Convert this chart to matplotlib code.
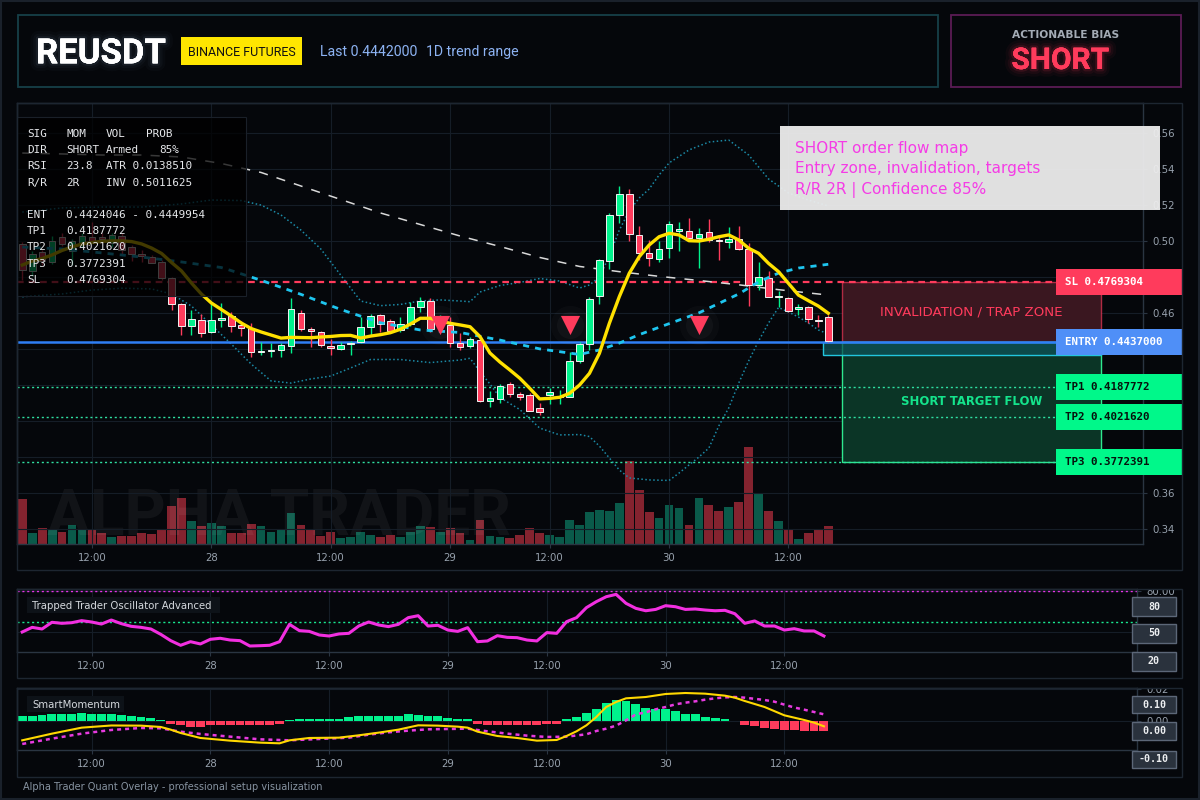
import matplotlib
matplotlib.use('Agg')
import matplotlib.pyplot as plt
import numpy as np
from matplotlib.patches import Rectangle
import matplotlib.patheffects as pe
from matplotlib.transforms import blended_transform_factory

# ---------------- data ----------------
symbol = 'REUSDT'
exchange = 'BINANCE FUTURES'
last_text = 'Last 0.4442000'
range_text = '1D trend range'
bias = 'SHORT'

opens = [0.4980, 0.4833, 0.4936, 0.4880, 0.5022, 0.4944, 0.4989, 0.5022, 0.5021, 0.4989,
         0.5026, 0.4967, 0.4926, 0.4911, 0.4882, 0.4791, 0.4647, 0.4528, 0.4559, 0.4491,
         0.4559, 0.4582, 0.4532, 0.4513, 0.4380, 0.4386, 0.4391, 0.4415, 0.4597, 0.4508,
         0.4491, 0.4413, 0.4397, 0.4424, 0.4437, 0.4519, 0.4586, 0.4552, 0.4504, 0.4537,
         0.4630, 0.4665, 0.4532, 0.4532, 0.4430, 0.4413, 0.4447, 0.4111, 0.4122, 0.4202,
         0.4147, 0.4141, 0.4069, 0.4144, 0.4130, 0.4133, 0.4333, 0.4424, 0.4694, 0.4889,
         0.5141, 0.5259, 0.5032, 0.4930, 0.4900, 0.4961, 0.5052, 0.5054, 0.5013, 0.5047,
         0.5004, 0.4994, 0.5008, 0.4952, 0.4754, 0.4794, 0.4689, 0.4680, 0.4619, 0.4630,
         0.4558, 0.4574]
highs = [0.4994, 0.4944, 0.4948, 0.5026, 0.5041, 0.5008, 0.5041, 0.5106, 0.5043, 0.5044,
         0.5041, 0.4976, 0.4948, 0.4921, 0.4893, 0.4800, 0.4652, 0.4615, 0.4591, 0.4658,
         0.4652, 0.4606, 0.4554, 0.4541, 0.4439, 0.4433, 0.4430, 0.4680, 0.4615, 0.4519,
         0.4500, 0.4454, 0.4439, 0.4444, 0.4578, 0.4591, 0.4593, 0.4563, 0.4574, 0.4658,
         0.4689, 0.4680, 0.4587, 0.4574, 0.4486, 0.4467, 0.4452, 0.4167, 0.4204, 0.4213,
         0.4159, 0.4152, 0.4097, 0.4180, 0.4171, 0.4380, 0.4439, 0.4686, 0.4900, 0.5152,
         0.5304, 0.5286, 0.5082, 0.5004, 0.4998, 0.5109, 0.5104, 0.5128, 0.5069, 0.5119,
         0.5026, 0.5074, 0.5082, 0.4986, 0.4880, 0.4833, 0.4721, 0.4689, 0.4648, 0.4637,
         0.4587, 0.4587]
lows = [0.4782, 0.4804, 0.4865, 0.4871, 0.4972, 0.4865, 0.4967, 0.4994, 0.4987, 0.4967,
        0.4921, 0.4889, 0.4883, 0.4874, 0.4782, 0.4615, 0.4476, 0.4476, 0.4463, 0.4486,
        0.4519, 0.4494, 0.4472, 0.4356, 0.4365, 0.4352, 0.4352, 0.4378, 0.4500, 0.4408,
        0.4411, 0.4367, 0.4393, 0.4367, 0.4433, 0.4476, 0.4494, 0.4494, 0.4493, 0.4526,
        0.4606, 0.4494, 0.4504, 0.4411, 0.4393, 0.4402, 0.4106, 0.4078, 0.4100, 0.4130,
        0.4115, 0.4054, 0.4032, 0.4093, 0.4093, 0.4130, 0.4322, 0.4393, 0.4648, 0.4841,
        0.5097, 0.4998, 0.4893, 0.4859, 0.4883, 0.4906, 0.4944, 0.5008, 0.4850, 0.4994,
        0.4893, 0.4961, 0.4948, 0.4637, 0.4726, 0.4686, 0.4630, 0.4606, 0.4587, 0.4544,
        0.4522, 0.4436]
closes = [0.4837, 0.4926, 0.4887, 0.4997, 0.4980, 0.4997, 0.5026, 0.5000, 0.5009, 0.5032,
          0.4948, 0.4926, 0.4915, 0.4878, 0.4791, 0.4647, 0.4526, 0.4565, 0.4489, 0.4559,
          0.4572, 0.4528, 0.4513, 0.4380, 0.4387, 0.4393, 0.4419, 0.4619, 0.4508, 0.4497,
          0.4419, 0.4402, 0.4419, 0.4432, 0.4519, 0.4580, 0.4537, 0.4500, 0.4536, 0.4630,
          0.4665, 0.4509, 0.4559, 0.4430, 0.4408, 0.4456, 0.4111, 0.4124, 0.4194, 0.4147,
          0.4133, 0.4056, 0.4047, 0.4159, 0.4137, 0.4332, 0.4426, 0.4676, 0.4893, 0.5143,
          0.5259, 0.5036, 0.4930, 0.4902, 0.4952, 0.5091, 0.5065, 0.5013, 0.5036, 0.5002,
          0.5000, 0.5008, 0.4952, 0.4754, 0.4800, 0.4689, 0.4693, 0.4611, 0.4630, 0.4563,
          0.4554, 0.4443]
volumes = [4.5, 1.1, 1.6, 1.4, 1.2, 1.9, 1.5, 1.5, 1.1, 0.7,
           0.8, 0.8, 1.1, 1.0, 1.5, 3.8, 4.6, 2.3, 1.8, 2.1,
           1.8, 1.1, 1.1, 2.0, 1.8, 1.2, 1.4, 3.1, 1.9, 1.5,
           0.8, 1.2, 0.6, 0.7, 1.2, 0.9, 0.7, 0.9, 0.7, 1.2,
           1.8, 1.7, 1.2, 1.6, 1.1, 0.4, 2.4, 0.8, 0.7, 0.6,
           0.9, 1.6, 1.1, 0.9, 0.7, 2.4, 1.9, 3.2, 3.4, 3.3,
           4.1, 8.3, 5.4, 3.2, 2.6, 3.9, 3.6, 1.9, 4.6, 3.9,
           3.3, 3.7, 4.2, 9.7, 5.0, 3.3, 2.3, 1.4, 0.5, 1.1,
           1.5, 1.8]

tick_pos = [7, 19, 31, 43, 53, 65, 77]
tick_labels = ['12:00', '28', '12:00', '29', '12:00', '30', '12:00']
price_ticks = [0.34, 0.36, 0.38, 0.40, 0.42, 0.44, 0.46, 0.48, 0.50, 0.52, 0.54, 0.56]
# tick labels that sit fully behind the level badges are left blank
price_tick_labels = ['0.34', '0.36', '', '', '', '', '0.46', '', '0.50', '0.52', '0.54', '0.56']

ema_fast = [0.4865, 0.4887, 0.4901, 0.4921, 0.4946, 0.4965, 0.4982, 0.4990, 0.4996, 0.4999,
            0.4999, 0.4995, 0.4982, 0.4959, 0.4929, 0.4879, 0.4832, 0.4765, 0.4704, 0.4654,
            0.4618, 0.4582, 0.4543, 0.4512, 0.4493, 0.4476, 0.4459, 0.4463, 0.4462, 0.4461,
            0.4465, 0.4468, 0.4473, 0.4474, 0.4459, 0.4470, 0.4478, 0.4489, 0.4508, 0.4537,
            0.4569, 0.4569, 0.4554, 0.4541, 0.4532, 0.4522, 0.4467, 0.4376, 0.4326, 0.4282,
            0.4236, 0.4180, 0.4121, 0.4124, 0.4130, 0.4152, 0.4198, 0.4263, 0.4374, 0.4541,
            0.4689, 0.4819, 0.4911, 0.4976, 0.5022, 0.5041, 0.5032, 0.5000, 0.4998, 0.5008,
            0.5022, 0.5032, 0.5004, 0.4958, 0.4930, 0.4874, 0.4828, 0.4763, 0.4698, 0.4667,
            0.4637, 0.4597]
ma_mid_idx = [0, 4, 8, 12, 16, 20, 21, 24, 28, 32, 36, 40, 44, 48, 52, 56, 58, 60, 62, 64,
              68, 72, 74, 76, 78, 81]
ma_mid = [0.4965, 0.4954, 0.4932, 0.4909, 0.4882, 0.4851, 0.4834, 0.4780, 0.4702, 0.4618,
          0.4544, 0.4504, 0.4490, 0.4448, 0.4399, 0.4368, 0.4393, 0.4431, 0.4478, 0.4519,
          0.4599, 0.4704, 0.4771, 0.4820, 0.4848, 0.4869]
ma_long_idx = [0, 4, 8, 12, 16, 20, 24, 28, 32, 36, 40, 44, 48, 52, 56, 60, 64, 68, 72, 76, 81]
ma_long = [0.5487, 0.5482, 0.5476, 0.5476, 0.5465, 0.5429, 0.5379, 0.5304, 0.5229, 0.5154,
           0.5090, 0.5026, 0.4968, 0.4907, 0.4857, 0.4828, 0.4802, 0.4779, 0.4755, 0.4728, 0.4698]
bb_up_idx = [0, 4, 8, 12, 16, 19, 22, 24, 26, 28, 30, 32, 34, 36, 38, 40, 42, 44, 45, 46,
             48, 50, 52, 54, 56, 57, 58, 59, 60, 61, 62, 63, 64, 65, 67, 69, 71, 73, 75, 77,
             79, 81]
bb_up = [0.5159, 0.5182, 0.5187, 0.5187, 0.5204, 0.5226, 0.5223, 0.5198, 0.5143, 0.5059,
         0.4954, 0.4809, 0.4665, 0.4639, 0.4646, 0.4665, 0.4671, 0.4665, 0.4661, 0.4715,
         0.4751, 0.4768, 0.4790, 0.4776, 0.4737, 0.4754, 0.4798, 0.4915, 0.5059, 0.5165,
         0.5237, 0.5287, 0.5365, 0.5432, 0.5504, 0.5548, 0.5559, 0.5476, 0.5343, 0.5265,
         0.5226, 0.5193]
bb_lo_idx = [0, 4, 7, 10, 13, 15, 17, 19, 21, 23, 25, 27, 29, 31, 33, 35, 38, 41, 44, 45,
             46, 47, 48, 50, 52, 54, 56, 57, 58, 59, 60, 61, 63, 65, 66, 67, 68, 69, 70, 71,
             72, 73, 74, 75, 76, 77, 78, 79, 80, 81]
bb_lo = [0.4689, 0.4704, 0.4726, 0.4736, 0.4732, 0.4704, 0.4637, 0.4532, 0.4426, 0.4315,
         0.4221, 0.4209, 0.4232, 0.4248, 0.4293, 0.4340, 0.4340, 0.4323, 0.4337, 0.4347,
         0.4272, 0.4204, 0.4129, 0.4062, 0.3959, 0.3921, 0.3923, 0.3912, 0.3859, 0.3793,
         0.3726, 0.3682, 0.3671, 0.3668, 0.3709, 0.3754, 0.3798, 0.3848, 0.3971, 0.4071,
         0.4209, 0.4332, 0.4443, 0.4543, 0.4629, 0.4604, 0.4576, 0.4543, 0.4504, 0.4482]
signal_idx = [42, 55, 68]
signal_price = [0.4532, 0.4532, 0.4532]

sl_price = 0.4769304
entry_price = 0.4437000
entry_low = 0.4364
tp_prices = [0.4187772, 0.4021620, 0.3772391]
tp_names = ['TP1', 'TP2', 'TP3']

info_rows = [
    ['SIG', 'MOM', 'VOL', 'PROB'],
    ['DIR', 'SHORT', 'Armed', '85%'],
    ['RSI', '23.8', 'ATR 0.0138510'],
    ['R/R', '2R', 'INV 0.5011625'],
    ['ENT', '0.4424046 - 0.4449954'],
    ['TP1', '0.4187772'],
    ['TP2', '0.4021620'],
    ['TP3', '0.3772391'],
    ['SL', '0.4769304'],
]
note_lines = ['SHORT order flow map', 'Entry zone, invalidation, targets', 'R/R 2R | Confidence 85%']

osc_vals = [40.3, 44.8, 43.2, 49.7, 48.7, 49.3, 51.3, 50.0, 48.0, 51.9,
            48.4, 45.8, 44.8, 43.2, 38.0, 31.9, 27.4, 30.9, 28.7, 33.2,
            34.2, 32.5, 31.9, 26.7, 27.0, 27.4, 30.9, 47.7, 41.6, 40.9,
            37.4, 36.4, 38.4, 39.0, 46.1, 50.0, 47.1, 45.5, 47.7, 54.2,
            56.1, 46.1, 46.8, 42.2, 40.9, 44.5, 30.9, 31.6, 36.7, 35.1,
            34.8, 32.5, 31.6, 39.7, 39.0, 50.3, 54.2, 63.9, 69.7, 74.5,
            76.8, 68.1, 63.2, 60.9, 62.2, 65.8, 64.8, 62.2, 62.6, 61.6,
            60.9, 61.3, 58.0, 48.7, 51.0, 46.1, 46.1, 42.2, 43.5, 41.3,
            41.3, 36.4]
osc_upper = 80
osc_mid = 50

mom_hist = [0.00297, 0.00318, 0.00382, 0.00403, 0.00425, 0.00425, 0.00488, 0.00425, 0.00403, 0.00403,
            0.0034, 0.00297, 0.00234, 0.0017, 0.00042,
            -0.00191, -0.00297, -0.00403, -0.00403, -0.00297, -0.00297, -0.00297, -0.00297, -0.00297,
            -0.00297, -0.00297, -0.00191,
            0.0004, 0.00127, 0.00085, 0.00085, 0.00085, 0.00127, 0.00212, 0.00276, 0.00276, 0.00276,
            0.00297, 0.00276, 0.00403, 0.00382, 0.00297, 0.00297, 0.00149, 0.00085, 0.00085,
            -0.00234, -0.00297, -0.00297, -0.00297, -0.00297, -0.00297, -0.00297, -0.00234, -0.00191,
            0.00085, 0.00234, 0.0051, 0.00764, 0.01125, 0.01295, 0.01231, 0.0104, 0.00786, 0.00722,
            0.00722, 0.00594, 0.00446, 0.00403, 0.00234, 0.00149, 0.00085,
            -0.00042, -0.00297, -0.00361, -0.00467, -0.00531, -0.00573, -0.00594, -0.00637, -0.00658,
            -0.00658]
mom_line_idx = [0, 3, 6, 9, 12, 14, 15, 16, 18, 21, 24, 26, 27, 29, 32, 34, 36, 38, 40, 42,
                44, 45, 46, 48, 50, 52, 54, 55, 56, 57, 58, 59, 60, 61, 63, 65, 67, 69, 71, 72,
                73, 75, 77, 79, 80, 81]
mom_line = [-0.01253, -0.00828, -0.00446, -0.00308, -0.00318, -0.00403, -0.00573, -0.00786, -0.01104,
            -0.01274, -0.01401, -0.01444, -0.01253, -0.01104, -0.01083, -0.00934, -0.00764, -0.00573,
            -0.00297, -0.00318, -0.00382, -0.00446, -0.00701, -0.00977, -0.01104, -0.01274, -0.01231,
            -0.00977, -0.00679, -0.00297, 0.00234, 0.0087, 0.01189, 0.01423, 0.01507, 0.01699,
            0.01762, 0.0172, 0.01592, 0.01465, 0.01253, 0.0087, 0.0034, 0.00042, -0.00127, -0.00361]
mom_sig_idx = [0, 3, 6, 9, 12, 14, 16, 18, 21, 24, 27, 30, 33, 35, 37, 39, 41, 43, 45, 47,
               49, 51, 53, 55, 57, 58, 59, 60, 61, 62, 63, 64, 65, 66, 67, 68, 69, 70, 71, 72,
               73, 74, 75, 76, 77, 78, 79, 80, 81]
mom_sig = [-0.01486, -0.01146, -0.00828, -0.00594, -0.00467, -0.00488, -0.00701, -0.00849, -0.01019,
           -0.01189, -0.01253, -0.01168, -0.01083, -0.00892, -0.00743, -0.00637, -0.00552, -0.00531,
           -0.0051, -0.00679, -0.00828, -0.00955, -0.0104, -0.01019, -0.0087, -0.00658, -0.0051,
           -0.00318, 0.00021, 0.00403, 0.00531, 0.00722, 0.0087, 0.0104, 0.01146, 0.01231, 0.01338,
           0.01423, 0.01486, 0.01507, 0.01465, 0.01391, 0.01316, 0.0121, 0.01019, 0.00839, 0.00701,
           0.00552, 0.00403]

# ---------------- style ----------------
W, H = 1200, 800
BG = '#05070b'
GRID = '#151d27'
SPINE = '#2a3542'
TICKC = '#98a2ae'
RED = '#ff3b5c'
GREEN = '#00f28c'
MONO = 'DejaVu Sans Mono'

fig = plt.figure(figsize=(12, 8), dpi=100, facecolor=BG)


def R(x0, y0, x1, y1, **kw):
    return fig.add_artist(Rectangle((x0 / W, 1 - y1 / H), (x1 - x0) / W, (y1 - y0) / H,
                                    transform=fig.transFigure, **kw))


def T(x, y, s, **kw):
    return fig.text(x / W, 1 - y / H, s, **kw)


def ax_rect(x0, y0, x1, y1):
    return [x0 / W, 1 - y1 / H, (x1 - x0) / W, (y1 - y0) / H]


def glow(color, a):
    return [pe.withStroke(linewidth=11, foreground=color, alpha=a * 0.35),
            pe.withStroke(linewidth=7, foreground=color, alpha=a * 0.5),
            pe.withStroke(linewidth=3.5, foreground=color, alpha=a),
            pe.Normal()]


XL = (-0.53, 112.63)
n = len(opens)
idx = np.arange(n)

# outer frame
R(1, 1, 1199, 799, fill=False, ec='#1a212b', lw=1.5, zorder=2)

# ---------------- header ----------------
R(18, 15, 938, 87, fill=False, ec='#164049', lw=1.3, zorder=2)
R(951, 15, 1181, 87, fill=False, ec='#5b1c55', lw=1.3, zorder=2)
T(36, 63.3, symbol, color='white', fontsize=25, fontweight='bold', family='Roboto',
  va='baseline', ha='left', zorder=3, path_effects=glow('#9fc0e8', 0.07))
R(181, 37, 302, 65, fc='#ffe600', ec='none', zorder=2)
T(241.5, 55.9, exchange, color='#111111', fontsize=9.0, family='Roboto', ha='center',
  va='baseline', zorder=3)
T(319.5, 56, last_text, color='#8db3f3', fontsize=10.2, family='Roboto', ha='left',
  va='baseline', zorder=3)
T(426, 56, range_text, color='#8db3f3', fontsize=10.2, family='Roboto', ha='left',
  va='baseline', zorder=3)
T(1011.5, 38.3, 'ACTIONABLE BIAS', color='#a3abb5', fontsize=7.7, fontweight='bold',
  ha='left', va='baseline', zorder=3)
T(1011.5, 69, bias, color=RED, fontsize=21.5, fontweight='bold', family='Roboto',
  ha='left', va='baseline', zorder=3, path_effects=glow(RED, 0.12))

# ---------------- main chart ----------------
R(17, 103, 1182, 570, fill=False, ec='#1d2631', lw=1.0, zorder=2)
rect_main = ax_rect(17, 103, 1143, 544)
ax_v = fig.add_axes(rect_main)
ax_v.set_xlim(*XL)
ax_v.set_ylim(0, 44.1)
ax_v.axis('off')
vcols = ['#0a5a4a' if c >= o else '#84232f' for o, c in zip(opens, closes)]
ax_v.bar(idx, volumes, width=0.88, color=vcols, zorder=1)

ax = fig.add_axes(rect_main)
ax.set_facecolor('none')
ax.set_xlim(*XL)
ax.set_ylim(0.3315, 0.5765)


def style_axis(a, yt, ytl):
    for s in a.spines.values():
        s.set_color(SPINE)
        s.set_linewidth(1.0)
    a.yaxis.tick_right()
    a.set_yticks(yt)
    a.set_yticklabels(ytl)
    a.set_xticks(tick_pos)
    a.set_xticklabels(tick_labels)
    a.tick_params(color=SPINE, labelcolor=TICKC, labelsize=7.3, length=3, width=0.8, pad=3.5)
    a.grid(True, color=GRID, lw=0.8)
    a.set_axisbelow(True)


style_axis(ax, price_ticks, price_tick_labels)

# watermark
ax.text(0.027, 0.02, 'ALPHA TRADER', transform=ax.transAxes, fontsize=46, family='Roboto',
        fontweight='bold', color='white', alpha=0.05, ha='left', va='baseline', zorder=0.5,
        clip_on=True)

# Bollinger bands and moving averages
ax.plot(bb_up_idx, bb_up, color='#1b8aa6', lw=1.1, ls=(0, (1, 1.6)), zorder=2)
ax.plot(bb_lo_idx, bb_lo, color='#1b8aa6', lw=1.1, ls=(0, (1, 1.6)), zorder=2)
ax.plot(ma_long_idx, ma_long, color='#d9d9d9', lw=1.1, ls=(0, (6, 6)), zorder=2.5)

# candles
for i, (o, h, l, c) in enumerate(zip(opens, highs, lows, closes)):
    col = GREEN if c >= o else RED
    ax.vlines(i, l, h, color=col, lw=1.0, zorder=3)
    ax.add_patch(Rectangle((i - 0.33, min(o, c)), 0.66, max(abs(c - o), 0.0005),
                           fc=col, ec='#f2f2f2', lw=0.7, zorder=3.2))

ax.plot(ma_mid_idx, ma_mid, color='#1ec5ef', lw=2.0, ls=(0, (2.2, 2.2)), zorder=3.5)
ax.plot(idx, ema_fast, color='#ffe100', lw=2.4, zorder=4, solid_joinstyle='round')

# signals with soft glow
ax.scatter(signal_idx, signal_price, s=800, color='white', alpha=0.025, zorder=4.5, lw=0)
ax.scatter(signal_idx, signal_price, s=380, color='white', alpha=0.03, zorder=4.5, lw=0)
ax.scatter(signal_idx, signal_price, marker='v', s=190, color=RED, zorder=5, lw=0)

# zones
z0, z1 = 82.35, 108.38
ax.add_patch(Rectangle((z0, entry_price), z1 - z0, sl_price - entry_price, fc='#3a1720',
                       ec=(1, 0.23, 0.36, 0.65), lw=1.0, zorder=1.6))
ax.add_patch(Rectangle((z0, tp_prices[2]), z1 - z0, entry_price - tp_prices[2], fc='#0b3526',
                       ec='#2ee88f', lw=1.0, zorder=1.6))
ax.add_patch(Rectangle((80.47, entry_low), z1 - 80.47, entry_price - entry_low,
                       fc=(0.05, 0.32, 0.34, 0.75), ec='#22c6de', lw=1.0, zorder=1.8))
ax.text((z0 + z1) / 2, 0.4602, 'INVALIDATION / TRAP ZONE', color=RED, fontsize=9.6,
        ha='center', va='center', zorder=2)
ax.text((z0 + z1) / 2, 0.4109, 'SHORT TARGET FLOW', color='#14e48c', fontsize=8.4,
        fontweight='bold', ha='center', va='center', zorder=2)

# level lines
line_end = 103.9
ax.hlines(sl_price, XL[0], line_end, color=RED, lw=1.6, ls=(0, (3, 2.2)), zorder=2.2)
ax.hlines(entry_price, XL[0], line_end, color='#2f7ff6', lw=1.8, zorder=2.2)
for tp in tp_prices:
    ax.hlines(tp, XL[0], line_end, color='#2fe0a2', lw=1.0, ls=(0, (1.5, 2)), zorder=2.2)

# right side level labels
trans = blended_transform_factory(ax.transAxes, ax.transData)
bh = 26 / 1800.0
labels = [('SL %.7f' % sl_price, sl_price, RED, 'white'),
          ('ENTRY %.7f' % entry_price, entry_price, '#4f8ff7', 'white')]
for nm, tp in zip(tp_names, tp_prices):
    labels.append(('%s %.7f' % (nm, tp), tp, '#00f88a', '#06120c'))
for txt, lv, fc, tc in labels:
    ax.add_patch(Rectangle((0.9227, lv - bh / 2), 0.1118, bh, transform=trans, fc=fc,
                           ec='none', clip_on=False, zorder=6))
    ax.text(0.9307, lv, txt, transform=trans, color=tc, fontsize=7.8, family=MONO,
            fontweight='bold', ha='left', va='center', clip_on=False, zorder=7)

# info panel
R(17, 117, 246, 296, fc=(0, 0, 0, 0.74), ec='#1a2029', lw=0.8, zorder=1)
row_y = [134, 150, 166, 183, 215, 231, 247, 264, 280]
col_x = [27, 66.2, 106, 145.8]
for ry, row in zip(row_y, info_rows):
    for ci, s in enumerate(row):
        x = col_x[ci]
        if s == '85%':
            x = 158.8
        T(x, ry, s, color='#e6e8eb', fontsize=7.9, family=MONO, ha='left', va='center', zorder=3)

# annotation note
R(780, 126, 1159.5, 210, fc=(0.93, 0.93, 0.93, 0.95), ec='none', zorder=1)
for yb, s in zip([152.7, 173.3, 193.6], note_lines):
    T(795, yb, s, color='#f53ce6', fontsize=11, ha='left', va='baseline', zorder=3)

# ---------------- oscillator ----------------
R(17, 589, 1182, 678, fill=False, ec='#1d2631', lw=1.0, zorder=2)
ax_o = fig.add_axes(ax_rect(17, 589.3, 1137, 652.3))
ax_o.set_facecolor('none')
ax_o.set_xlim(*XL)
ax_o.set_ylim(20.6, 81.7)
style_axis(ax_o, [40, 80], ['', '80.00'])
ax_o.axhline(osc_upper, color='#e632e6', lw=1.0, ls=(0, (1.5, 2)), zorder=2)
ax_o.axhline(osc_mid, color='#19e890', lw=1.0, ls=(0, (1.5, 2)), zorder=2)
ax_o.plot(idx, osc_vals, color='#f22fe0', lw=2.2, zorder=3, solid_joinstyle='round')
R(26.8, 596.7, 220, 612.7, fc='#0d1218', ec='none', zorder=1.2)
T(32.5, 609, 'Trapped Trader Oscillator Advanced', color='#d5d9de', fontsize=7.3,
  ha='left', va='baseline', zorder=3)

# ---------------- momentum ----------------
R(17, 687.7, 1182, 777, fill=False, ec='#1d2631', lw=1.0, zorder=2)
ax_m = fig.add_axes(ax_rect(17, 687.7, 1137, 750))
ax_m.set_facecolor('none')
ax_m.set_xlim(*XL)
ax_m.set_ylim(-0.0187, 0.021)
style_axis(ax_m, [0.0, 0.02], ['0.00', '0.02'])
hcols = ['#00f28c' if v >= 0 else RED for v in mom_hist]
ax_m.bar(idx, mom_hist, width=0.9, color=hcols, zorder=2)
ax_m.plot(mom_sig_idx, mom_sig, color='#e83ae0', lw=1.8, ls=(0, (1.6, 1.6)), zorder=3)
ax_m.plot(mom_line_idx, mom_line, color='#ffd800', lw=1.5, zorder=3.5)
R(26.8, 696, 124.4, 711.7, fc='#0d1218', ec='none', zorder=1.2)
T(32.5, 707.7, 'SmartMomentum', color='#d5d9de', fontsize=7.3, ha='left', va='baseline',
  zorder=3)

# cover the upper half of the cut-off top tick labels
R(1138, 579, 1181, 589.0, fc=BG, ec='none', zorder=1.5)
R(1138, 678.8, 1181, 687.5, fc=BG, ec='none', zorder=1.5)

# level boxes on the oscillator panels
boxes = [('80', 597.3, 615.7), ('50', 624.3, 642.7), ('20', 652.3, 670.7),
         ('0.10', 695.7, 713.3), ('0.00', 722.3, 740.3), ('-0.10', 750.7, 768.3)]
for s, y0, y1 in boxes:
    R(1132.3, y0, 1175.7, y1, fc='#2a323d', ec='#5c6778', lw=1.0, zorder=2.5)
    T(1154, (y0 + y1) / 2, s, color='#eceef0', fontsize=7.2, family=MONO, fontweight='bold',
      ha='center', va='center', zorder=3)

T(23, 790, 'Alpha Trader Quant Overlay - professional setup visualization', color='#8793a1',
  fontsize=7.0, ha='left', va='baseline', zorder=3)

fig.savefig('out.png', dpi=100, facecolor=BG)
